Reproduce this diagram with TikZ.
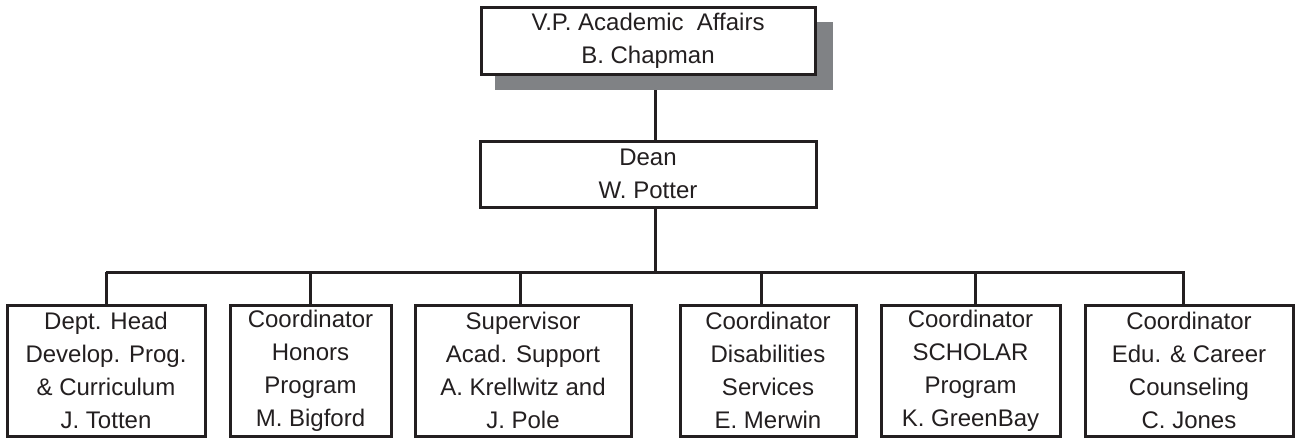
\documentclass[tikz,border=0pt]{standalone}
\usepackage{fontspec}
\setmainfont{Liberation Sans}
\definecolor{ink}{HTML}{231F20}
\definecolor{shadowgray}{HTML}{808285}
\begin{document}
\begin{tikzpicture}[x=1pt,y=-1pt,
  box/.style={draw=ink,line width=3pt,fill=white,rectangle,inner sep=0pt,
    align=center,text=ink,font=\fontsize{24}{33}\selectfont},
  conn/.style={draw=ink,line width=3pt}]
\useasboundingbox (0,0) rectangle (1297,437);
\coordinate (busL) at (106,272);
\coordinate (busR) at (1185,272);
\node[box,minimum width=336pt,minimum height=66pt] (dean) at (648,174) {Dean\\W. Potter};
\node[box,minimum width=334pt,minimum height=67pt,draw=none,fill=none] (vpref) at (648,40.5) {};
\draw[conn] ([xshift=7pt]vpref.south) -- ([xshift=7pt]dean.north);
\draw[conn] ([xshift=7pt]dean.south) -- ([xshift=7pt]dean.south |- busL);
\draw[conn] (busL) -- (busR);
% bottom boxes
\node[box,minimum width=198pt,minimum height=131pt] (b1) at (106,370.5) {Dept. Head\\Develop. Prog.\\\& Curriculum\\J. Totten};
\node[box,minimum width=161pt,minimum height=131pt] (b2) at (310.5,370.5) {Coordinator\\Honors\\Program\\M. Bigford};
\node[box,minimum width=216pt,minimum height=131pt] (b3) at (523,370.5) {Supervisor\\Acad. Support\\A. Krellwitz and\\J. Pole};
\node[box,minimum width=176pt,minimum height=131pt] (b4) at (768,370.5) {Coordinator\\Disabilities\\Services\\E. Merwin};
\node[box,minimum width=179pt,minimum height=131pt] (b5) at (970.5,370.5) {Coordinator\\SCHOLAR\\Program\\K. GreenBay};
\node[box,minimum width=208pt,minimum height=131pt] (b6) at (1189,370.5) {Coordinator\\Edu. \& Career\\Counseling\\C. Jones};
\draw[conn] (b1.north |- busL) -- (b1.north);
\draw[conn] (b2.north |- busL) -- (b2.north);
\draw[conn] ([xshift=-3pt]b3.north |- busL) -- ([xshift=-3pt]b3.north);
\draw[conn] ([xshift=-7pt]b4.north |- busL) -- ([xshift=-7pt]b4.north);
\draw[conn] ([xshift=5pt]b5.north |- busL) -- ([xshift=5pt]b5.north);
\draw[conn] ([xshift=-6pt]b6.north |- busL) -- ([xshift=-6pt]b6.north);
% top box with shadow
\fill[shadowgray] (495,22) rectangle (833,90);
\node[box,minimum width=334pt,minimum height=67pt] (vp) at (648,40.5) {V.P. Academic\ \ Affairs\\B. Chapman};
\end{tikzpicture}
\end{document}
